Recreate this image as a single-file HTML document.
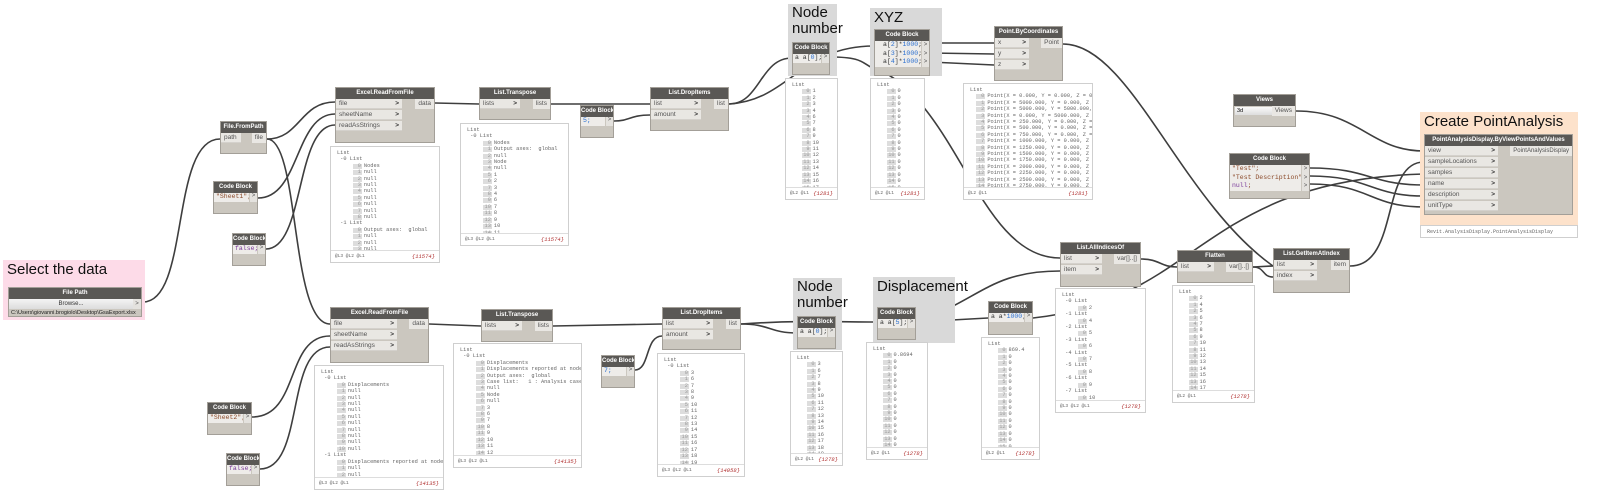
<!DOCTYPE html>
<html><head><meta charset="utf-8"><style>
body{margin:0;width:1600px;height:495px;background:#fff;position:relative;overflow:hidden;font-family:"Liberation Sans",sans-serif}
.g{position:absolute}
.gt{position:absolute;left:4px;top:1px;font-size:15px;color:#111;line-height:17px}
.n{position:absolute;background:#cbc7bf;border:1px solid #a39f98;box-sizing:border-box}
.h{background:#5a5855;color:#fff;font-size:6px;font-weight:bold;text-align:center;height:11px;line-height:11px;white-space:nowrap;overflow:hidden}
.ip{position:absolute;left:0;height:10px;background:#e9e7e3;font-size:6.5px;line-height:10px;color:#555;padding-left:3px;box-sizing:border-box;border-bottom:1px solid #d4d1cc}
.ip b{position:absolute;right:3px;top:0;font-weight:bold;color:#333}
.op{position:absolute;right:0;height:10px;background:#e9e7e3;font-size:6.5px;line-height:10px;color:#555;padding:0 3px}
.cb{position:absolute;left:0;right:8px;background:#eeece9;font-family:"Liberation Mono",monospace;font-size:6.5px;line-height:8.5px;padding-left:2px;color:#8b4a2a;white-space:pre;overflow:hidden}
.co{position:absolute;right:0;width:7px;background:#e4e2de;font-size:6px;color:#555;text-align:center}
.pv{position:absolute;background:#fff;border:1px solid #cfcfcf;box-sizing:border-box;font-family:"Liberation Mono",monospace;font-size:5.3px;line-height:6.4px;color:#666;overflow:hidden;padding:3px 0 0 6px;white-space:pre}
.pv i{display:inline-block;font-style:normal;background:#ddd;color:#999;min-width:8px;text-align:right;margin-right:2px;height:5px;line-height:5px;padding-right:1px}
.ft{position:absolute;left:0;right:0;bottom:0;height:11px;border-top:1px solid #ddd;background:#fff;font-size:4.5px;line-height:11px;padding-left:4px;color:#666}
.ft span{position:absolute;right:4px;color:#b03030;font-size:5.5px;font-style:italic}
.bl{color:#2a6fd0}.pu{color:#7a3a9a}
</style></head><body>

<svg class="g" style="left:0;top:0" width="1600" height="495">
<g fill="none" stroke="#3e3e3e" stroke-width="1.6">
<path d="M143 302 C190 302,170 139,220 139"/>
<path d="M267 139 C300 139,300 102,335 102"/>
<path d="M267 139 C300 139,290 324,330 324"/>
<path d="M258 198 C300 198,295 114,335 114"/>
<path d="M266 249 C305 249,295 125,335 125"/>
<path d="M252 417 C300 417,285 336,330 336"/>
<path d="M260 469 C305 469,285 347,330 347"/>
<path d="M435 103 L479 104"/>
<path d="M551 104 L650 104"/>
<path d="M614 121 C630 121,630 115,650 115"/>
<path d="M429 324 L481 326"/>
<path d="M553 326 L662 324"/>
<path d="M635 370 C650 370,645 336,662 336"/>
<path d="M729 104 C760 104,760 58,792 58"/>
<path d="M729 104 C790 100,800 46,874 46"/>
<path d="M830 57 C870 57,860 66,880 70 C960 110,980 258,1060 258"/>
<path d="M930 43 L994 43"/>
<path d="M930 53 L994 54"/>
<path d="M930 62 L994 65"/>
<path d="M1063 44 C1130 44,1180 200,1273 266"/>
<path d="M741 324 C770 324,770 333,797 333"/>
<path d="M741 324 C800 320,840 322,877 322"/>
<path d="M916 322 L988 318"/>
<path d="M916 322 C980 300,990 271,1060 271"/>
<path d="M1033 318 C1200 300,1200 180,1424 174"/>
<path d="M1141 259 C1160 259,1160 267,1177 267"/>
<path d="M1253 267 L1273 266"/>
<path d="M1253 267 C1265 267,1262 277,1273 277"/>
<path d="M1350 266 C1400 266,1380 162,1424 162"/>
<path d="M1296 111 C1360 111,1370 151,1424 151"/>
<path d="M1310 168 C1370 168,1370 185,1424 185"/>
<path d="M1310 176 C1370 176,1370 196,1424 196"/>
<path d="M1310 184 C1370 184,1370 207,1424 207"/>
</g></svg>

<div class="g" style="left:3px;top:260px;width:142px;height:60px;background:#fddbe8"><div class="gt">Select the data</div></div>
<div class="g" style="left:788px;top:4px;width:49px;height:72px;background:#d9d9d9"><div class="gt" style="line-height:16px">Node<br>number</div></div>
<div class="g" style="left:870px;top:8px;width:72px;height:68px;background:#d9d9d9"><div class="gt">XYZ</div></div>
<div class="g" style="left:1420px;top:112px;width:158px;height:113px;background:#fde2cb"><div class="gt">Create PointAnalysis</div></div>
<div class="g" style="left:793px;top:278px;width:49px;height:72px;background:#d9d9d9"><div class="gt" style="line-height:16px">Node<br>number</div></div>
<div class="g" style="left:873px;top:277px;width:82px;height:66px;background:#d9d9d9"><div class="gt">Displacement</div></div>

<div class="n" style="left:8px;top:287px;width:134px;height:30px"><div class="h">File Path</div>
<div style="position:absolute;left:0;top:11px;width:124px;height:10px;background:linear-gradient(#f4f4f4,#dcdcdc);font-size:6px;text-align:center;line-height:10px;color:#333">Browse...</div>
<div class="co" style="top:11px;height:10px;width:8px;line-height:10px">&gt;</div>
<div style="position:absolute;left:2px;top:21px;font-size:5.5px;line-height:8px;color:#222">C:\Users\giovanni.brogiolo\Desktop\GsaExport.xlsx</div></div>

<div class="n" style="left:220px;top:121px;width:47px;height:33px"><div class="h">File.FromPath</div>
<div class="ip" style="top:11px;width:20px">path</div><div class="op" style="top:11px">file</div></div>

<div class="n" style="left:213px;top:181px;width:45px;height:33px"><div class="h">Code Block</div>
<div class="cb" style="top:11px;height:9px">"Sheet1";</div><div class="co" style="top:11px;height:9px">&gt;</div></div>
<div class="n" style="left:232px;top:233px;width:34px;height:33px"><div class="h">Code Block</div>
<div class="cb pu" style="top:11px;height:9px">false;</div><div class="co" style="top:11px;height:9px">&gt;</div></div>

<div class="n" style="left:335px;top:87px;width:100px;height:56px"><div class="h">Excel.ReadFromFile</div>
<div class="ip" style="top:11px;width:66px">file<b>&gt;</b></div><div class="ip" style="top:22px;width:66px">sheetName<b>&gt;</b></div><div class="ip" style="top:33px;width:66px">readAsStrings<b>&gt;</b></div><div class="op" style="top:11px">data</div></div>
<div class="pv" style="left:330px;top:146px;width:110px;height:117px">List
 -0 List
     <i>0</i>Nodes
     <i>1</i>null
     <i>2</i>null
     <i>3</i>null
     <i>4</i>null
     <i>5</i>null
     <i>6</i>null
     <i>7</i>null
     <i>8</i>null
 -1 List
     <i>0</i>Output axes:  global
     <i>1</i>null
     <i>2</i>null
     <i>3</i>null
     <i>4</i>null<div class="ft">@L3 @L2 @L1<span>{11574}</span></div></div>

<div class="n" style="left:479px;top:87px;width:72px;height:33px"><div class="h">List.Transpose</div>
<div class="ip" style="top:11px;width:40px">lists<b>&gt;</b></div><div class="op" style="top:11px">lists</div></div>
<div class="pv" style="left:460px;top:123px;width:109px;height:123px">List
 -0 List
     <i>0</i>Nodes
     <i>1</i>Output axes:  global
     <i>2</i>null
     <i>3</i>Node
     <i>4</i>null
     <i>5</i>1
     <i>6</i>2
     <i>7</i>3
     <i>8</i>4
     <i>9</i>6
     <i>10</i>7
     <i>11</i>8
     <i>12</i>9
     <i>13</i>10
     <i>14</i>11<div class="ft">@L3 @L2 @L1<span>{11574}</span></div></div>

<div class="n" style="left:580px;top:105px;width:34px;height:33px"><div class="h">Code Block</div>
<div class="cb bl" style="top:11px;height:9px">5;</div><div class="co" style="top:11px;height:9px">&gt;</div></div>

<div class="n" style="left:650px;top:87px;width:79px;height:44px"><div class="h">List.DropItems</div>
<div class="ip" style="top:11px;width:50px">list<b>&gt;</b></div><div class="ip" style="top:22px;width:50px">amount<b>&gt;</b></div><div class="op" style="top:11px">list</div></div>

<div class="n" style="left:792px;top:42px;width:38px;height:33px"><div class="h">Code Block</div>
<div class="cb" style="top:11px;height:9px;color:#333">a a[<span class="bl">0</span>];</div><div class="co" style="top:11px;height:9px">&gt;</div></div>
<div class="pv" style="left:785px;top:78px;width:53px;height:122px">List
   <i>0</i>1
   <i>1</i>2
   <i>2</i>3
   <i>3</i>4
   <i>4</i>6
   <i>5</i>7
   <i>6</i>8
   <i>7</i>9
   <i>8</i>10
   <i>9</i>11
   <i>10</i>12
   <i>11</i>13
   <i>12</i>14
   <i>13</i>15
   <i>14</i>16
   <i>15</i>17<div class="ft">@L2 @L1<span>{1281}</span></div></div>

<div class="n" style="left:874px;top:29px;width:56px;height:47px"><div class="h">Code Block</div>
<div class="cb" style="top:11px;height:26px;color:#333;padding-left:8px">a[<span class="bl">2</span>]*<span class="bl">1000</span>;
a[<span class="bl">3</span>]*<span class="bl">1000</span>;
a[<span class="bl">4</span>]*<span class="bl">1000</span>;</div><div class="co" style="top:11px;height:26px;line-height:8.5px">&gt;<br>&gt;<br>&gt;</div></div>
<div class="pv" style="left:870px;top:78px;width:55px;height:122px">List
   <i>0</i>0
   <i>1</i>0
   <i>2</i>0
   <i>3</i>0
   <i>4</i>0
   <i>5</i>0
   <i>6</i>0
   <i>7</i>0
   <i>8</i>0
   <i>9</i>0
   <i>10</i>0
   <i>11</i>0
   <i>12</i>0
   <i>13</i>0
   <i>14</i>0
   <i>15</i>0<div class="ft">@L2 @L1<span>{1281}</span></div></div>

<div class="n" style="left:994px;top:26px;width:69px;height:55px"><div class="h">Point.ByCoordinates</div>
<div class="ip" style="top:11px;width:34px">x<b>&gt;</b></div><div class="ip" style="top:22px;width:34px">y<b>&gt;</b></div><div class="ip" style="top:33px;width:34px">z<b>&gt;</b></div><div class="op" style="top:11px">Point</div></div>
<div class="pv" style="left:963px;top:83px;width:130px;height:117px">List
  <i>0</i>Point(X = 0.000, Y = 0.000, Z = 0.
  <i>1</i>Point(X = 5000.000, Y = 0.000, Z =
  <i>2</i>Point(X = 5000.000, Y = 5000.000,
  <i>3</i>Point(X = 0.000, Y = 5000.000, Z =
  <i>4</i>Point(X = 250.000, Y = 0.000, Z =
  <i>5</i>Point(X = 500.000, Y = 0.000, Z =
  <i>6</i>Point(X = 750.000, Y = 0.000, Z =
  <i>7</i>Point(X = 1000.000, Y = 0.000, Z =
  <i>8</i>Point(X = 1250.000, Y = 0.000, Z =
  <i>9</i>Point(X = 1500.000, Y = 0.000, Z =
  <i>10</i>Point(X = 1750.000, Y = 0.000, Z
  <i>11</i>Point(X = 2000.000, Y = 0.000, Z
  <i>12</i>Point(X = 2250.000, Y = 0.000, Z
  <i>13</i>Point(X = 2500.000, Y = 0.000, Z
  <i>14</i>Point(X = 2750.000, Y = 0.000, Z
  <i>15</i>Point(X = 3000.000, Y = 0.000, Z<div class="ft">@L2 @L1<span>{1281}</span></div></div>

<div class="n" style="left:1233px;top:94px;width:63px;height:33px"><div class="h">Views</div>
<div style="position:absolute;left:1px;top:12px;width:40px;height:8px;background:linear-gradient(#fafafa,#ddd);font-size:5.5px;line-height:8px;padding-left:2px">3d<span style="float:right;margin-right:2px">▾</span></div><div class="op" style="top:11px">Views</div></div>

<div class="n" style="left:1229px;top:153px;width:81px;height:46px"><div class="h">Code Block</div>
<div class="cb" style="top:11px;height:26px">"Test";
"Test Description";
<span class="pu">null</span>;</div><div class="co" style="top:11px;height:26px;line-height:8.5px">&gt;<br>&gt;<br>&gt;</div></div>

<div class="n" style="left:1424px;top:134px;width:149px;height:81px"><div class="h">PointAnalysisDisplay.ByViewPointsAndValues</div>
<div class="ip" style="top:11px;width:73px">view<b>&gt;</b></div><div class="ip" style="top:22px;width:73px">sampleLocations<b>&gt;</b></div><div class="ip" style="top:33px;width:73px">samples<b>&gt;</b></div><div class="ip" style="top:44px;width:73px">name<b>&gt;</b></div><div class="ip" style="top:55px;width:73px">description<b>&gt;</b></div><div class="ip" style="top:66px;width:73px">unitType<b>&gt;</b></div>
<div class="op" style="top:11px;font-size:6px">PointAnalysisDisplay</div></div>
<div class="pv" style="left:1420px;top:225px;width:158px;height:13px;padding-top:3px;font-size:5px">Revit.AnalysisDisplay.PointAnalysisDisplay</div>

<div class="n" style="left:1177px;top:250px;width:76px;height:33px"><div class="h">Flatten</div>
<div class="ip" style="top:11px;width:36px">list<b>&gt;</b></div><div class="op" style="top:11px">var[]..[]</div></div>
<div class="pv" style="left:1172px;top:285px;width:83px;height:118px">List
   <i>0</i>2
   <i>1</i>4
   <i>2</i>5
   <i>3</i>6
   <i>4</i>7
   <i>5</i>8
   <i>6</i>9
   <i>7</i>10
   <i>8</i>11
   <i>9</i>12
   <i>10</i>13
   <i>11</i>14
   <i>12</i>15
   <i>13</i>16
   <i>14</i>17
   <i>15</i>18<div class="ft">@L2 @L1<span>{1278}</span></div></div>

<div class="n" style="left:1273px;top:248px;width:77px;height:45px"><div class="h">List.GetItemAtIndex</div>
<div class="ip" style="top:11px;width:43px">list<b>&gt;</b></div><div class="ip" style="top:22px;width:43px">index<b>&gt;</b></div><div class="op" style="top:11px">item</div></div>

<div class="n" style="left:1060px;top:242px;width:81px;height:45px"><div class="h">List.AllIndicesOf</div>
<div class="ip" style="top:11px;width:41px">list<b>&gt;</b></div><div class="ip" style="top:22px;width:41px">item<b>&gt;</b></div><div class="op" style="top:11px">var[]..[]</div></div>
<div class="pv" style="left:1055px;top:288px;width:91px;height:125px">List
 -0 List
     <i>0</i>2
 -1 List
     <i>0</i>4
 -2 List
     <i>0</i>5
 -3 List
     <i>0</i>6
 -4 List
     <i>0</i>7
 -5 List
     <i>0</i>8
 -6 List
     <i>0</i>9
 -7 List
     <i>0</i>10<div class="ft">@L3 @L2 @L1<span>{1278}</span></div></div>

<div class="n" style="left:988px;top:301px;width:45px;height:34px"><div class="h">Code Block</div>
<div class="cb" style="top:11px;height:9px;color:#333">a a*<span class="bl">1000</span>;</div><div class="co" style="top:11px;height:9px">&gt;</div></div>
<div class="pv" style="left:981px;top:337px;width:59px;height:123px">List
   <i>0</i>869.4
   <i>1</i>0
   <i>2</i>0
   <i>3</i>0
   <i>4</i>0
   <i>5</i>0
   <i>6</i>0
   <i>7</i>0
   <i>8</i>0
   <i>9</i>0
   <i>10</i>0
   <i>11</i>0
   <i>12</i>0
   <i>13</i>0
   <i>14</i>0
   <i>15</i>0<div class="ft">@L2 @L1<span>{1278}</span></div></div>

<div class="n" style="left:877px;top:307px;width:39px;height:33px"><div class="h">Code Block</div>
<div class="cb" style="top:11px;height:9px;color:#333">a a[<span class="bl">5</span>];</div><div class="co" style="top:11px;height:9px">&gt;</div></div>
<div class="pv" style="left:866px;top:342px;width:62px;height:118px">List
   <i>0</i>0.8694
   <i>1</i>0
   <i>2</i>0
   <i>3</i>0
   <i>4</i>0
   <i>5</i>0
   <i>6</i>0
   <i>7</i>0
   <i>8</i>0
   <i>9</i>0
   <i>10</i>0
   <i>11</i>0
   <i>12</i>0
   <i>13</i>0
   <i>14</i>0
   <i>15</i>0<div class="ft">@L2 @L1<span>{1278}</span></div></div>

<div class="n" style="left:797px;top:316px;width:39px;height:33px"><div class="h">Code Block</div>
<div class="cb" style="top:11px;height:9px;color:#333">a a[<span class="bl">0</span>];</div><div class="co" style="top:11px;height:9px">&gt;</div></div>
<div class="pv" style="left:790px;top:351px;width:53px;height:115px">List
   <i>0</i>3
   <i>1</i>6
   <i>2</i>7
   <i>3</i>8
   <i>4</i>9
   <i>5</i>10
   <i>6</i>11
   <i>7</i>12
   <i>8</i>13
   <i>9</i>14
   <i>10</i>15
   <i>11</i>16
   <i>12</i>17
   <i>13</i>18
   <i>14</i>19
   <i>15</i>20<div class="ft">@L2 @L1<span>{1278}</span></div></div>

<div class="n" style="left:662px;top:307px;width:79px;height:43px"><div class="h">List.DropItems</div>
<div class="ip" style="top:11px;width:50px">list<b>&gt;</b></div><div class="ip" style="top:22px;width:50px">amount<b>&gt;</b></div><div class="op" style="top:11px">list</div></div>
<div class="pv" style="left:657px;top:353px;width:88px;height:124px">List
 -0 List
     <i>0</i>3
     <i>1</i>6
     <i>2</i>7
     <i>3</i>8
     <i>4</i>9
     <i>5</i>10
     <i>6</i>11
     <i>7</i>12
     <i>8</i>13
     <i>9</i>14
     <i>10</i>15
     <i>11</i>16
     <i>12</i>17
     <i>13</i>18
     <i>14</i>19<div class="ft">@L3 @L2 @L1<span>{14058}</span></div></div>

<div class="n" style="left:601px;top:355px;width:34px;height:33px"><div class="h">Code Block</div>
<div class="cb bl" style="top:11px;height:9px">7;</div><div class="co" style="top:11px;height:9px">&gt;</div></div>

<div class="n" style="left:481px;top:309px;width:72px;height:33px"><div class="h">List.Transpose</div>
<div class="ip" style="top:11px;width:40px">lists<b>&gt;</b></div><div class="op" style="top:11px">lists</div></div>
<div class="pv" style="left:453px;top:343px;width:129px;height:125px">List
 -0 List
     <i>0</i>Displacements
     <i>1</i>Displacements reported at nodes
     <i>2</i>Output axes:  global
     <i>3</i>Case list:   1 : Analysis case :
     <i>4</i>null
     <i>5</i>Node
     <i>6</i>null
     <i>7</i>3
     <i>8</i>6
     <i>9</i>7
     <i>10</i>8
     <i>11</i>9
     <i>12</i>10
     <i>13</i>11
     <i>14</i>12<div class="ft">@L3 @L2 @L1<span>{14135}</span></div></div>

<div class="n" style="left:330px;top:307px;width:99px;height:56px"><div class="h">Excel.ReadFromFile</div>
<div class="ip" style="top:11px;width:66px">file<b>&gt;</b></div><div class="ip" style="top:22px;width:66px">sheetName<b>&gt;</b></div><div class="ip" style="top:33px;width:66px">readAsStrings<b>&gt;</b></div><div class="op" style="top:11px">data</div></div>
<div class="pv" style="left:314px;top:365px;width:130px;height:125px">List
 -0 List
     <i>0</i>Displacements
     <i>1</i>null
     <i>2</i>null
     <i>3</i>null
     <i>4</i>null
     <i>5</i>null
     <i>6</i>null
     <i>7</i>null
     <i>8</i>null
     <i>9</i>null
     <i>10</i>null
 -1 List
     <i>0</i>Displacements reported at nodes
     <i>1</i>null
     <i>2</i>null<div class="ft">@L3 @L2 @L1<span>{14135}</span></div></div>

<div class="n" style="left:207px;top:402px;width:45px;height:33px"><div class="h">Code Block</div>
<div class="cb" style="top:11px;height:9px">"Sheet2";</div><div class="co" style="top:11px;height:9px">&gt;</div></div>
<div class="n" style="left:226px;top:453px;width:34px;height:33px"><div class="h">Code Block</div>
<div class="cb pu" style="top:11px;height:9px">false;</div><div class="co" style="top:11px;height:9px">&gt;</div></div>

</body></html>
